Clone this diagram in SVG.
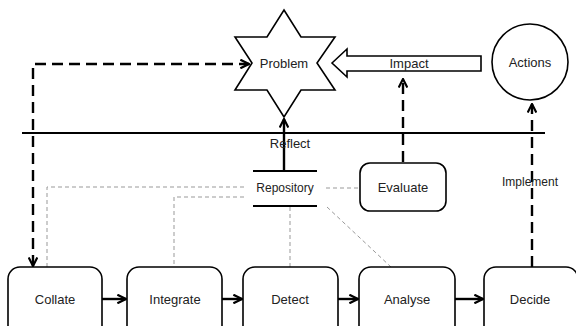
<svg xmlns="http://www.w3.org/2000/svg" width="576" height="326" viewBox="0 0 576 326">
<style>
text{font-family:"Liberation Sans",Arial,sans-serif;fill:#222;text-anchor:middle}
.lbl{font-size:13px}
.sm{font-size:12px}
.box{fill:#fff;stroke:#000;stroke-width:1.6}
.dash{fill:none;stroke:#000;stroke-width:2.4;stroke-dasharray:11 6}
.gray{fill:none;stroke:#999;stroke-width:1;stroke-dasharray:4 3}
.solid{fill:none;stroke:#000;stroke-width:2.4}
</style>
<defs>
<marker id="ah" viewBox="0 0 10 10" refX="9" refY="5" markerWidth="4.5" markerHeight="4.5" orient="auto-start-reverse" markerUnits="strokeWidth">
<path d="M1,1 L9,5 L1,9" fill="none" stroke="#000" stroke-width="2"/>
</marker>
</defs>
<rect width="576" height="326" fill="#fff"/>
<g id="connectors">
<line x1="22" y1="133" x2="545" y2="133" stroke="#000" stroke-width="2"/>
<path class="dash" d="M33,266 V64 H249" marker-start="url(#ah)" marker-end="url(#ah)"/>
<line class="solid" x1="284" y1="170" x2="284" y2="119" marker-end="url(#ah)"/>
<line class="dash" x1="403" y1="162" x2="403" y2="79" marker-end="url(#ah)"/>
<line class="dash" x1="532" y1="267" x2="532" y2="104" marker-end="url(#ah)"/>
<path class="gray" d="M244,187 H47 V267"/>
<path class="gray" d="M244,197 H174 V267"/>
<path class="gray" d="M290,207 V267"/>
<path class="gray" d="M327,207 L391,267"/>
<path class="gray" d="M326,188 H360"/>
<line class="solid" x1="102" y1="299" x2="126" y2="299" marker-end="url(#ah)"/>
<line class="solid" x1="222" y1="299" x2="242" y2="299" marker-end="url(#ah)"/>
<line class="solid" x1="338" y1="299" x2="358" y2="299" marker-end="url(#ah)"/>
<line class="solid" x1="455" y1="299" x2="483" y2="299" marker-end="url(#ah)"/>
<text class="lbl" x="290" y="148">Reflect</text>
</g>
<g id="problem">
<polygon class="box" points="284,10 301,37 335,37 317,63 335,90 301,90 284,117 267,90 235,90 252,63 235,37 267,37"/>
<text class="lbl" x="284" y="68">Problem</text>
</g>
<g id="impact">
<polygon class="box" points="332,63 347,49 347,56 481,56 481,71 347,71 347,77"/>
<text class="lbl" x="409" y="68">Impact</text>
</g>
<g id="actions">
<circle class="box" cx="530" cy="62" r="38"/>
<text class="lbl" x="530" y="67">Actions</text>
</g>
<g id="repository">
<line x1="253" y1="171" x2="317" y2="171" stroke="#000" stroke-width="2"/>
<line x1="253" y1="206" x2="317" y2="206" stroke="#000" stroke-width="2"/>
<text class="sm" x="285" y="192">Repository</text>
</g>
<g id="evaluate">
<rect class="box" x="360" y="163" width="86" height="48" rx="10"/>
<text class="lbl" x="403" y="192">Evaluate</text>
</g>
<g id="implement">
<text class="sm" x="530" y="186">Implement</text>
</g>
<g id="collate">
<rect class="box" x="8" y="267" width="94" height="80" rx="12"/>
<text class="lbl" x="55" y="304">Collate</text>
</g>
<g id="integrate">
<rect class="box" x="127" y="267" width="95" height="80" rx="12"/>
<text class="lbl" x="175" y="304">Integrate</text>
</g>
<g id="detect">
<rect class="box" x="243" y="267" width="95" height="80" rx="12"/>
<text class="lbl" x="290" y="304">Detect</text>
</g>
<g id="analyse">
<rect class="box" x="359" y="267" width="96" height="80" rx="12"/>
<text class="lbl" x="407" y="304">Analyse</text>
</g>
<g id="decide">
<rect class="box" x="484" y="267" width="94" height="80" rx="12"/>
<text class="lbl" x="530" y="304">Decide</text>
</g>
</svg>
